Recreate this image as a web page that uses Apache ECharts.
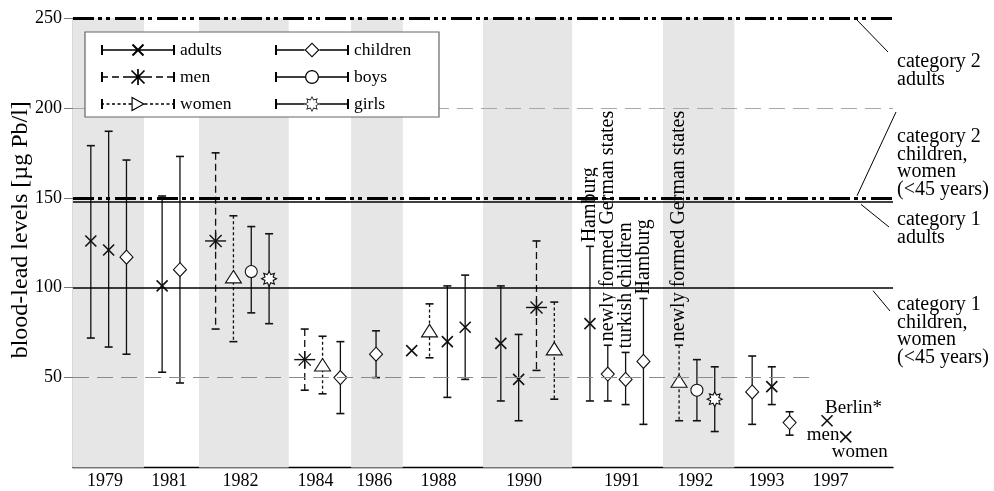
<!DOCTYPE html>
<html><head><meta charset="utf-8">
<script src="https://cdn.jsdelivr.net/npm/echarts@6/dist/echarts.min.js"></script>
<style>html,body{margin:0;padding:0;background:#fff}#c{width:994px;height:491px}</style>
</head><body><div id="c"></div>
<script>
const FONT = '"Liberation Serif","Times New Roman",serif';

// ---- data ----
// x axis: sampling slots; year labels sit under their groups
const yearLabels   = ['1979','1981','1982','1984','1986','1988','1990','1991','1992','1993','1997'];
const yearLabelPos = [1.8, 5.4, 9.4, 13.6, 16.9, 20.5, 25.3, 30.8, 34.9, 38.9, 42.5];
// shaded year bands [from, to] in slot units
const bandRanges = [[0, 3.98], [7.07, 12.1], [15.6, 18.5], [23, 28], [33.1, 37.1]];
const yTicks = [50, 100, 150, 200, 250];

// series rows: [slot, mean, low, high]
const adults   = [[1,126,72,179],[2,121,67,187],[5,101,53,151],[19,65,null,null],[21,70,39,101],[22,78,49,107],[24,69,37,101],[25,49,26,74],[29,80,37,123],[39.2,45,35,56],[42.3,26,null,null],[43.35,17,null,null]];
const men      = [[8,126,77,175],[13,60,43,77],[26,89,54,126]];
const women    = [[9,106,70,140],[14,57,41,73],[20,76,61,91],[27,66,38,92],[34,48,26,68]];
const children = [[3,117,63,171],[6,110,47,173],[15,50,30,70],[17,63,50,76],[30,52,37,68],[31,49,35,64],[32,59,24,94],[38.1,42,24,62],[40.2,25,18,31]];
const boys     = [[10,109,86,134],[35,43,26,60]];
const girls    = [[11,105,80,130],[36,38,20,56]];

// annotations on individual points
const noteSeries = ['adults','children','children','children','women','adults','adults','adults'];
const noteSlots  = [29, 30, 31, 32, 34, 42.3, 42.3, 43.35];
const noteTexts  = ['Hamburg','newly formed German states','turkish children','Hamburg','newly formed German states','Berlin*','men','women'];

// guide values (threshold lines)
const cat2Adults = 250, guide200 = 200, cat2ChildWomen = 150, cat1Adults = 148, cat1ChildWomen = 100, guide50 = 50;
const guide50End = 41.6;
const rightLabels = ['category 2\nadults', 'category 2\nchildren,\nwomen\n(<45 years)', 'category 1\nadults', 'category 1\nchildren,\nwomen\n(<45 years)'];

const seriesNames = ['adults','men','women','children','boys','girls'];
const seriesData  = {adults, men, women, children, boys, girls};

// ---- styling ----
const STY = {
  adults:   {marker:'cross',    dash:null},
  men:      {marker:'asterisk', dash:[7,4]},
  women:    {marker:'triangle', dash:[3,2.5]},
  children: {marker:'diamond',  dash:null},
  boys:     {marker:'circle',   dash:null},
  girls:    {marker:'star',     dash:null}
};
const INK = '#111';

function starPts(cx, cy, ro, ri, n) {
  const p = [];
  for (let i = 0; i < 2*n; i++) {
    const a = -Math.PI/2 + i*Math.PI/n, r = i%2 ? ri : ro;
    p.push([cx + r*Math.cos(a), cy + r*Math.sin(a)]);
  }
  return p;
}
function markerEls(kind, cx, cy) {
  const ln = (x1,y1,x2,y2,w) => ({type:'line', shape:{x1,y1,x2,y2}, style:{stroke:INK, lineWidth:w||1.5}});
  const hollow = {fill:'#fff', stroke:INK, lineWidth:1.1};
  switch (kind) {
    case 'cross': return [ln(cx-5.5,cy-5.5,cx+5.5,cy+5.5,1.6), ln(cx-5.5,cy+5.5,cx+5.5,cy-5.5,1.6)];
    case 'asterisk': return [ln(cx-10.5,cy,cx+10.5,cy,1.4), ln(cx,cy-8.5,cx,cy+8.5,1.4), ln(cx-6,cy-6,cx+6,cy+6,1.4), ln(cx-6,cy+6,cx+6,cy-6,1.4)];
    case 'triangle': return [{type:'polygon', shape:{points:[[cx,cy-6.5],[cx+8,cy+6],[cx-8,cy+6]]}, style:hollow}];
    case 'diamond': return [{type:'polygon', shape:{points:[[cx,cy-7],[cx+6.5,cy],[cx,cy+7],[cx-6.5,cy]]}, style:hollow}];
    case 'circle': return [{type:'circle', shape:{cx,cy,r:6}, style:hollow}];
    case 'star': return [{type:'polygon', shape:{points:starPts(cx,cy,7.5,4.4,8)}, style:hollow}];
  }
  return [];
}
function inBand(slot) { return bandRanges.some(b => slot >= b[0] && slot <= b[1]); }

function makeRender(name) {
  const st = STY[name];
  return function (params, api) {
    const slot = api.value(0), m = api.value(1), lo = api.value(2), hi = api.value(3);
    const c = api.coord([slot, m]);
    const els = [];
    const hasBar = isFinite(lo) && isFinite(hi);
    let topY = c[1];
    if (hasBar) {
      const pHi = api.coord([slot, hi]), pLo = api.coord([slot, lo]);
      topY = pHi[1];
      els.push({type:'line', shape:{x1:c[0], y1:pHi[1], x2:c[0], y2:pLo[1]}, style:{stroke:INK, lineWidth:1.3, lineDash:st.dash}});
      els.push({type:'line', shape:{x1:c[0]-4, y1:pHi[1], x2:c[0]+4, y2:pHi[1]}, style:{stroke:INK, lineWidth:1.6}});
      els.push({type:'line', shape:{x1:c[0]-4, y1:pLo[1], x2:c[0]+4, y2:pLo[1]}, style:{stroke:INK, lineWidth:1.6}});
    }
    els.push(...markerEls(st.marker, c[0], c[1]));
    // notes
    const notes = [];
    noteSeries.forEach((s, i) => { if (s === name && noteSlots[i] === slot) notes.push(noteTexts[i]); });
    notes.forEach((t, k) => {
      if (hasBar) {
        els.push({type:'text', x:c[0], y:topY-3, rotation:Math.PI/2, z2:5,
          style:{text:t, fontFamily:FONT, fontSize:20, fill:'#000', align:'left', verticalAlign:'middle',
                 backgroundColor: inBand(slot) ? '#e6e6e6' : '#fff', padding:[0,1,0,1]}});
      } else if (notes.length === 2) {
        const above = k === 0;
        els.push({type:'text', x: above ? c[0]-2 : c[0]-4, y: above ? c[1]-13 : c[1]+14,
          style:{text:t, fontFamily:FONT, fontSize:19, fill:'#000', align: above ? 'left' : 'center', verticalAlign:'middle'}});
      } else {
        els.push({type:'text', x:c[0]-14, y:c[1]+15,
          style:{text:t, fontFamily:FONT, fontSize:19, fill:'#000', align:'left', verticalAlign:'middle'}});
      }
    });
    return {type:'group', children:els};
  };
}

// ---- legend icons built as filled paths (74 x 16 box) ----
function area(p){ let s=0; for(let i=0;i<p.length;i++){const a=p[i],b=p[(i+1)%p.length]; s+=a[0]*b[1]-b[0]*a[1];} return s/2; }
function poly(p, hole){ let q=p.slice(); const a=area(q); if ((a<0) !== !!hole) q.reverse(); return 'M'+q.map(v=>v[0].toFixed(2)+' '+v[1].toFixed(2)).join(' L')+' Z '; }
function rect(x,y,w,h){ return poly([[x,y],[x+w,y],[x+w,y+h],[x,y+h]]); }
function seg(x1,y1,x2,y2,t){ const dx=x2-x1, dy=y2-y1, L=Math.hypot(dx,dy), nx=-dy/L*t/2, ny=dx/L*t/2; return poly([[x1+nx,y1+ny],[x2+nx,y2+ny],[x2-nx,y2-ny],[x1-nx,y1-ny]]); }
function ring(outer, inner){ return poly(outer) + poly(inner, true); }
function scalePts(p, cx, cy, f){ return p.map(v=>[cx+(v[0]-cx)*f, cy+(v[1]-cy)*f]); }
function lineRun(x0, x1, dash){
  if (!dash) return rect(x0, 7.2, x1-x0, 1.6);
  let s='', x=x0; while (x < x1) { const e=Math.min(x+dash[0], x1); s+=rect(x,7.2,e-x,1.6); x=e+dash[1]; } return s;
}
function legendIcon(name){
  const st = STY[name], cx = 37, cy = 8;
  let s = rect(0,3,2,10) + rect(72,3,2,10);
  let half = 0, mk = '';
  switch (st.marker) {
    case 'cross': half = 0; mk = seg(cx-5.5,cy-5.5,cx+5.5,cy+5.5,2)+seg(cx-5.5,cy+5.5,cx+5.5,cy-5.5,2); break;
    case 'asterisk': half = 0; mk = seg(cx-11,cy,cx+11,cy,1.7)+seg(cx,cy-8,cx,cy+8,1.7)+seg(cx-6.5,cy-6.5,cx+6.5,cy+6.5,1.7)+seg(cx-6.5,cy+6.5,cx+6.5,cy-6.5,1.7); break;
    case 'triangle': { half = 6.5; const o=[[cx-6.5,cy-7.5],[cx+7,cy],[cx-6.5,cy+7.5]]; mk = ring(o, scalePts(o, cx-2, cy, 0.74)); break; }
    case 'diamond': { half = 7.5; const o=[[cx,cy-7.5],[cx+7.5,cy],[cx,cy+7.5],[cx-7.5,cy]]; mk = ring(o, scalePts(o, cx, cy, 0.79)); break; }
    case 'circle': { half = 7; const o=[], n=28; for(let i=0;i<n;i++){const a=i/n*2*Math.PI; o.push([cx+7*Math.cos(a), cy+7*Math.sin(a)]);} mk = ring(o, scalePts(o,cx,cy,0.82)); break; }
    case 'star': { half = 7.5; const o=starPts(cx,cy,8,4.8,8); mk = ring(o, scalePts(o,cx,cy,0.8)); break; }
  }
  if (half) s += lineRun(0, cx-half, st.dash) + lineRun(cx+half, 74, st.dash);
  else s += lineRun(0, 74, st.dash);
  return 'path://' + s + mk;
}

// ---- chart ----
const chart = echarts.init(document.getElementById('c'));
const lineDashDot = [21, 4, 4, 4, 4, 5];

const series = [
  { type:'line', name:'_bands', data:[], z:0, silent:true,
    markArea:{ silent:true, itemStyle:{color:'#e6e6e6'}, data: bandRanges.map(b => [{xAxis:b[0]}, {xAxis:b[1]}]) } },
  { type:'line', name:'_guides', data:[], z:1, silent:true,
    markLine:{ silent:true, symbol:'none', label:{show:false}, animation:false,
      data:[
        {yAxis:guide200, lineStyle:{color:'#a8a8a8', width:1.2, type:[16,8]}},
        [{coord:[0, guide50], lineStyle:{color:'#8a8a8a', width:1.1, type:[16,8]}}, {coord:[guide50End, guide50]}],
        {yAxis:cat1ChildWomen, lineStyle:{color:'#000', width:1.6, type:'solid'}},
        {yAxis:cat1Adults, lineStyle:{color:'#000', width:1.6, type:'solid'}},
        {yAxis:cat2ChildWomen, lineStyle:{color:'#000', width:3, type:lineDashDot}},
        {yAxis:cat2Adults, lineStyle:{color:'#000', width:3, type:lineDashDot}}
      ] } }
];
seriesNames.forEach(n => series.push({
  type:'custom', name:n, z:3, itemStyle:{color:'#000'},
  renderItem: makeRender(n),
  encode:{x:0, y:1},
  data: seriesData[n].map(r => r.map(v => v === null ? NaN : v))
}));

chart.setOption({
  animation:false,
  backgroundColor:'#fff',
  textStyle:{fontFamily:FONT},
  grid:{left:73, right:101, top:18, bottom:23.5, containLabel:false, outerBoundsMode:'none'},
  xAxis:{ type:'value', min:0, max:46,
    axisLine:{lineStyle:{color:'#000', width:1.3}}, axisTick:{show:false}, splitLine:{show:false},
    axisLabel:{ customValues: yearLabelPos, formatter: v => yearLabels[yearLabelPos.indexOf(v)] || '',
      fontFamily:FONT, fontSize:18, color:'#000', margin:5 } },
  yAxis:{ type:'value', min:0, max:250, interval:50,
    name:'blood-lead levels [µg Pb/l]', nameLocation:'middle', nameGap:52, nameMoveOverlap:false,
    nameTextStyle:{fontFamily:FONT, fontSize:24, color:'#000', verticalAlign:'middle', padding:[0,0,0,26]},
    axisLine:{show:true, lineStyle:{color:'#000', width:1.3}},
    axisTick:{show:true, inside:false, length:9, customValues:yTicks, lineStyle:{color:'#777', width:1}},
    splitLine:{show:false},
    axisLabel:{customValues:yTicks, fontFamily:FONT, fontSize:18, color:'#000', margin:11} },
  legend:[
    { data: ['adults','men','women'].map(n => ({name:n, icon:legendIcon(n)})), orient:'vertical', left:101, top:41,
      itemWidth:74, itemHeight:16, itemGap:9, padding:0, symbolKeepAspect:true, z:11,
      textStyle:{fontFamily:FONT, fontSize:17.5, color:'#000'}, selectedMode:false },
    { data: ['children','boys','girls'].map(n => ({name:n, icon:legendIcon(n)})), orient:'vertical', left:275, top:41,
      itemWidth:74, itemHeight:16, itemGap:9, padding:0, symbolKeepAspect:true, z:11,
      textStyle:{fontFamily:FONT, fontSize:17.5, color:'#000'}, selectedMode:false }
  ],
  series
});

// legend frame, right-hand threshold labels and their leader lines
function py(v){ return chart.convertToPixel({yAxisIndex:0}, v); }
const labelTops = [53, 128, 211, 296];
const leaders = [
  [857, py(cat2Adults)+2, 888, 52],
  [857, py(cat2ChildWomen)-2, 896, 112],
  [861, py(cat1Adults)+3, 889, 227],
  [873, py(cat1ChildWomen)+3, 890, 311]
];
const graphics = [
  {type:'rect', z:10, shape:{x:85, y:32, width:354, height:85}, style:{fill:'#fff', stroke:'#666', lineWidth:1.2}}
];
rightLabels.forEach((t, i) => graphics.push({type:'text', x:897, y:labelTops[i], z:5,
  style:{text:t, fontFamily:FONT, fontSize:20, lineHeight:17.5, fill:'#000', align:'left', verticalAlign:'top'}}));
leaders.forEach(l => graphics.push({type:'line', z:5, shape:{x1:l[0], y1:l[1], x2:l[2], y2:l[3]}, style:{stroke:'#000', lineWidth:1}}));
chart.setOption({graphic: graphics});
</script>
</body></html>
